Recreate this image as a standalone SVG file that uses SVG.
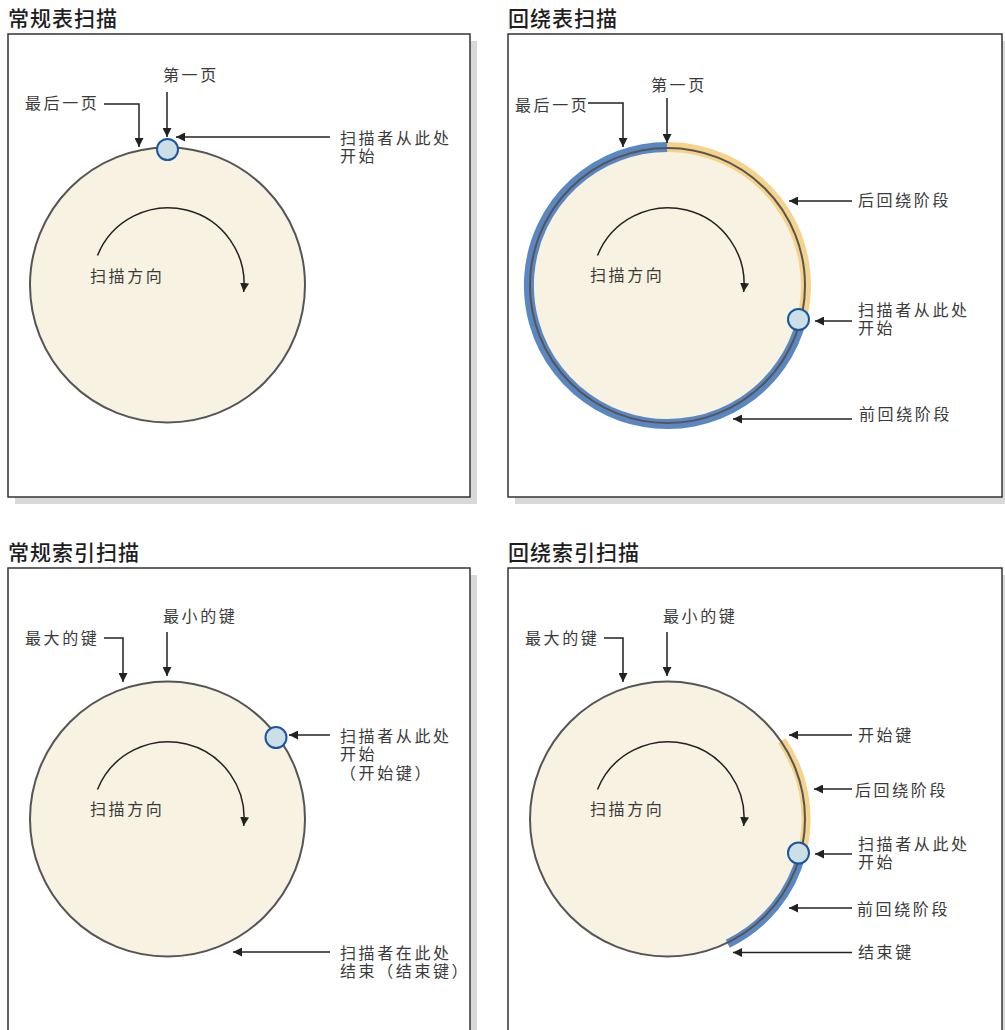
<svg xmlns="http://www.w3.org/2000/svg" width="1005" height="1030" viewBox="0 0 1005 1030">
<style>
.title{font-family:"Liberation Sans","Noto Sans CJK SC",sans-serif;font-size:21px;font-weight:500;fill:#1e1e1e;letter-spacing:1px}
.lbl{font-family:"Liberation Sans","Noto Sans CJK SC",sans-serif;font-size:16px;fill:#3a3a3a;letter-spacing:2.6px}
.box{fill:#fff;stroke:#333;stroke-width:1.5}
.shadow{fill:#d9d9d9}
.disk{fill:#f7f2e1;stroke:none}
.rim{fill:none;stroke:#555;stroke-width:2}
.start{fill:#cddfe6;stroke:#1a56a0;stroke-width:2}
.ldr{fill:none;stroke:#222;stroke-width:1.5;marker-end:url(#ah)}
.dir{fill:none;stroke:#222;stroke-width:1.5;marker-end:url(#ah)}
.blue{fill:none;stroke:#5a87c2;stroke-width:10}
.yel{fill:none;stroke:#f5d38b;stroke-width:10}
</style>
<defs>
<marker id="ah" viewBox="0 0 10 10" refX="10" refY="5" markerUnits="userSpaceOnUse" markerWidth="9" markerHeight="9" orient="auto">
<path d="M0,0 L10,5 L0,10 z" fill="#222"/>
</marker>
</defs>

<g id="frames">
<rect class="shadow" x="470" y="41" width="7" height="463"/>
<rect class="shadow" x="15" y="497" width="462" height="7"/>
<rect class="box" x="8" y="34" width="462" height="463"/>
<rect class="shadow" x="1002" y="41" width="3" height="463"/>
<rect class="shadow" x="515" y="497" width="490" height="7"/>
<rect class="box" x="508" y="34" width="494" height="463"/>
<rect class="shadow" x="470" y="575" width="7" height="455"/>
<rect class="box" x="8" y="568" width="462" height="470"/>
<rect class="shadow" x="1002" y="575" width="3" height="455"/>
<rect class="box" x="508" y="568" width="494" height="470"/>
</g>

<g id="titles">
<text class="title" x="8" y="26">常规表扫描</text>
<text class="title" x="508" y="26">回绕表扫描</text>
<text class="title" x="8" y="560">常规索引扫描</text>
<text class="title" x="508" y="560">回绕索引扫描</text>
</g>

<!-- Panel 1 -->
<g id="p1-disk">
<circle class="disk" cx="167.5" cy="285" r="137.5"/>
<circle class="rim" cx="167.5" cy="285" r="137.5"/>
<circle class="start" cx="167.5" cy="149.5" r="10.5"/>
</g>
<g id="p1-labels">
<text class="lbl" x="163" y="81">第一页</text>
<text class="lbl" x="25" y="109">最后一页</text>
<text class="lbl" x="340" y="144">扫描者从此处<tspan x="340" dy="18">开始</tspan></text>
<text class="lbl" x="90" y="282">扫描方向</text>
</g>

<!-- Panel 2 -->
<g id="p2-disk">
<circle class="disk" cx="667.5" cy="285.5" r="137.5"/>
<path class="blue" d="M801.6,319.8 A138.5,138.5 0 1 1 667.5,147"/>
<path class="yel" d="M667.5,147 A138.5,138.5 0 0 1 801.6,319.8"/>
<circle class="rim" cx="667.5" cy="285.5" r="137.5"/>
<circle class="start" cx="798.5" cy="319.5" r="10.5"/>
</g>
<g id="p2-labels">
<text class="lbl" x="651" y="91">第一页</text>
<text class="lbl" x="515" y="111">最后一页</text>
<text class="lbl" x="858" y="206">后回绕阶段</text>
<text class="lbl" x="858" y="316">扫描者从此处<tspan x="858" dy="18">开始</tspan></text>
<text class="lbl" x="859" y="420">前回绕阶段</text>
<text class="lbl" x="590" y="281">扫描方向</text>
</g>

<!-- Panel 3 -->
<g id="p3-disk">
<circle class="disk" cx="167.5" cy="819" r="137.5"/>
<circle class="rim" cx="167.5" cy="819" r="137.5"/>
<circle class="start" cx="276" cy="737.5" r="10.5"/>
</g>
<g id="p3-labels">
<text class="lbl" x="163" y="622">最小的键</text>
<text class="lbl" x="25" y="644">最大的键</text>
<text class="lbl" x="340" y="742">扫描者从此处<tspan x="340" dy="18">开始</tspan><tspan x="340" dy="19">（开始键）</tspan></text>
<text class="lbl" x="340" y="959">扫描者在此处<tspan x="340" dy="18">结束（结束键）</tspan></text>
<text class="lbl" x="90" y="815">扫描方向</text>
</g>

<!-- Panel 4 -->
<g id="p4-disk">
<circle class="disk" cx="667.5" cy="819" r="137.5"/>
<path class="yel" d="M781.8,740.7 A138.5,138.5 0 0 1 801.7,853.4" style="stroke-width:9"/>
<path class="blue" d="M801.7,853.4 A138.5,138.5 0 0 1 727.8,943.7" style="stroke-width:9"/>
<circle class="rim" cx="667.5" cy="819" r="137.5"/>
<circle class="start" cx="798.5" cy="853" r="10.5"/>
</g>
<g id="p4-labels">
<text class="lbl" x="663" y="622">最小的键</text>
<text class="lbl" x="525" y="644">最大的键</text>
<text class="lbl" x="858" y="741">开始键</text>
<text class="lbl" x="855" y="796">后回绕阶段</text>
<text class="lbl" x="858" y="850">扫描者从此处<tspan x="858" dy="18">开始</tspan></text>
<text class="lbl" x="857" y="915">前回绕阶段</text>
<text class="lbl" x="858" y="958">结束键</text>
<text class="lbl" x="590" y="815">扫描方向</text>
</g>

<g id="connectors">
<path class="ldr" d="M167,92 L167,137"/>
<path class="ldr" d="M104,104 L139,104 L139,147"/>
<path class="ldr" d="M330,137 L176,137"/>
<path class="dir" d="M97.5,255.5 A76,76 0 0 1 243.6,292"/>
<path class="ldr" d="M667,98 L667,143"/>
<path class="ldr" d="M588,103 L623,103 L623,147"/>
<path class="ldr" d="M852,201 L789,201"/>
<path class="ldr" d="M852,321 L815,321"/>
<path class="ldr" d="M852,419 L733,419"/>
<path class="dir" d="M597.5,255.5 A76,76 0 0 1 743.6,292"/>
<path class="ldr" d="M167,632 L167,676"/>
<path class="ldr" d="M104,638 L123,638 L123,682"/>
<path class="ldr" d="M330,735 L289,735"/>
<path class="ldr" d="M330,952 L233,952"/>
<path class="dir" d="M97.5,789.5 A76,76 0 0 1 243.6,826"/>
<path class="ldr" d="M667,632 L667,676"/>
<path class="ldr" d="M604,638 L623,638 L623,682"/>
<path class="ldr" d="M852,735 L789,735"/>
<path class="ldr" d="M852,789 L814,789"/>
<path class="ldr" d="M852,854 L815,854"/>
<path class="ldr" d="M852,908 L789,908"/>
<path class="ldr" d="M852,952.5 L733,952.5"/>
<path class="dir" d="M597.5,789.5 A76,76 0 0 1 743.6,826"/>
</g>
</svg>
